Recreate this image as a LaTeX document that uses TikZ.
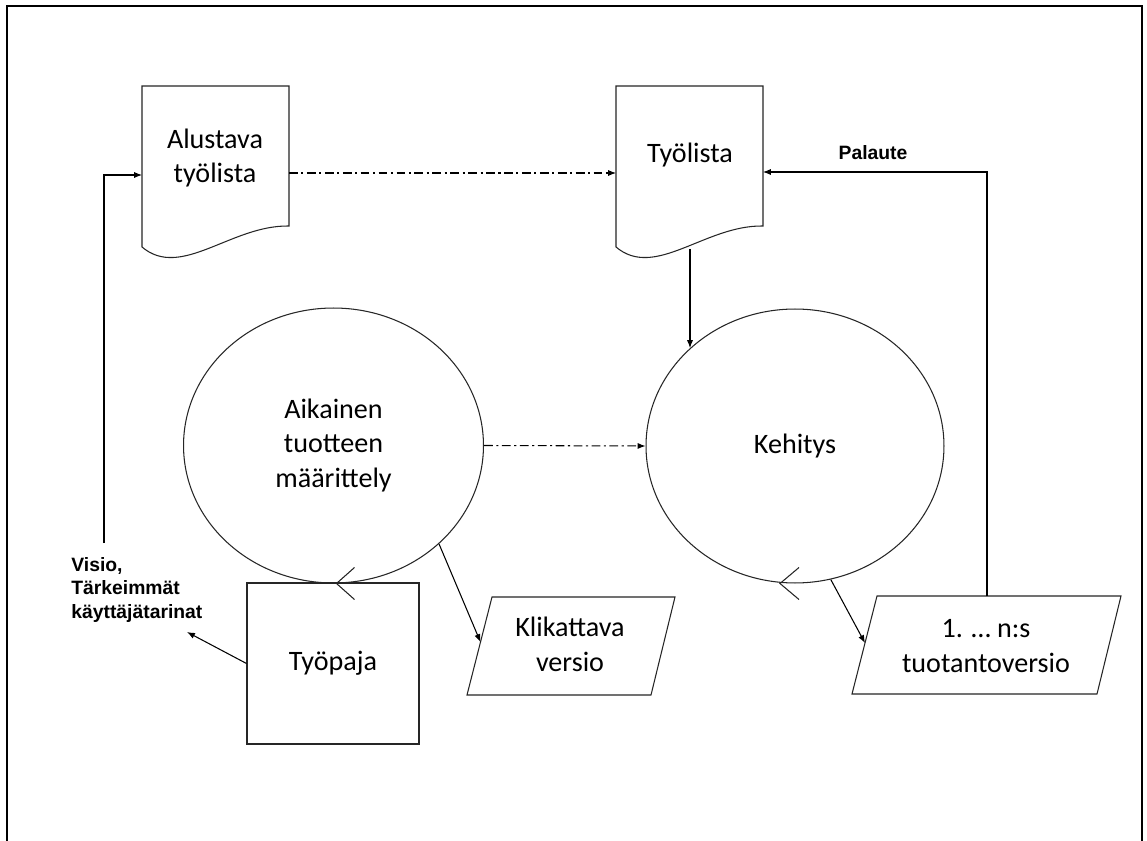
\documentclass[tikz,border=0pt]{standalone}
\usepackage{fontspec}
\setmainfont{Carlito}
\newfontfamily\arialfont{Liberation Sans}
\usetikzlibrary{shapes.geometric,arrows.meta,calc}
\begin{document}
\begin{tikzpicture}[x=0.02cm,y=-0.02cm,
 shapeline/.style={draw=black!85, line width=0.6pt},
 conn/.style={draw=black, line width=0.6pt},
 arr/.style={conn, -{Latex[length=4.5pt,width=3.5pt]}},
 dashdot/.style={arr, dash pattern=on 5pt off 2pt on 1.2pt off 2pt},
 maintext/.style={font=\fontsize{16}{19.8}\selectfont, align=center, inner sep=0pt},
 lbl/.style={font=\arialfont\bfseries\fontsize{11}{13.3}\selectfont, inner sep=0pt},
 circ/.style={ellipse, shapeline, inner sep=0pt, align=center, font=\fontsize{16}{19.8}\selectfont},
 chev/.style={draw=black!85, line width=0.6pt}
]
\useasboundingbox (0,0) rectangle (1147,841);
\fill[white] (0,0) rectangle (1147,841);
% frame (open at the bottom)
\draw[line width=1.2pt] (7,841) -- (7,6) -- (1142,6) -- (1142,841);

% document shapes
\draw[shapeline] (142,86) -- (289,86) -- (289,226) .. controls (231,225) and (181,280) .. (142,247) -- cycle;
\draw[shapeline] (616,86) -- (763,86) -- (763,226) .. controls (705,225) and (655,280) .. (616,247) -- cycle;
\node[maintext] (alustava) at (215,158) {Alustava\\työlista};
\node[maintext] (tyolista) at (690,155) {Työlista};
\coordinate (al-in) at (142,175);
\coordinate (al-out) at (289,173);
\coordinate (tl-in) at (616,173);
\coordinate (tl-fb) at (763,172);
\coordinate (tl-w) at (690,249);

% circles
\node[circ, minimum width=6cm, minimum height=5.5cm] (aikainen) at (333.5,445.5) {Aikainen\\tuotteen\\määrittely};
\node[circ, minimum width=5.96cm, minimum height=5.48cm] (kehitys) at (795,446) {Kehitys};

% workshop box
\node[shapeline, minimum width=3.44cm, minimum height=3.22cm, font=\fontsize{16}{19.8}\selectfont] (tyopaja) at (333,663.5) {Työpaja};

% parallelograms
\coordinate (kl-tl) at (492,597);
\coordinate (kl-tr) at (675,597);
\coordinate (kl-br) at (651,695);
\coordinate (kl-bl) at (467,695);
\draw[shapeline] (kl-tl) -- (kl-tr) -- (kl-br) -- (kl-bl) -- cycle;
\node[maintext] (klik) at (570,644) {Klikattava\\versio};
\coordinate (kl-in) at ($(kl-tl)!0.46!(kl-bl)$);

\coordinate (tv-tl) at (877,596);
\coordinate (tv-tr) at (1121,596);
\coordinate (tv-br) at (1097,694);
\coordinate (tv-bl) at (852,694);
\draw[shapeline] (tv-tl) -- (tv-tr) -- (tv-br) -- (tv-bl) -- cycle;
\node[maintext] (tuot) at (986,646) {1. … n:s\\tuotantoversio};
\coordinate (tv-in) at ($(tv-tl)!0.48!(tv-bl)$);
\coordinate (tv-top) at (987,596);

% labels
\node[lbl, align=left, anchor=west] (visio) at (71,590) {Visio,\\Tärkeimmät\\käyttäjätarinat};
\node[lbl] (palaute) at (873,153) {Palaute};
\coordinate (v-start) at (104,543);
\coordinate (v-end) at (187,632);

% connectors
\draw[dashdot] (al-out) -- (tl-in);
\draw[dashdot] (aikainen.east) -- (kehitys.west);
\draw[arr] (tl-w) -- (tl-w |- kehitys.137);
\draw[arr] (tv-top) |- (tl-fb);
\draw[arr] (v-start) |- (al-in);
\draw[arr] (tyopaja.west) -- (v-end);
\draw[arr] (aikainen.317) -- (kl-in);
\draw[arr] (kehitys.-75) -- (tv-in);

% open chevrons on the circles
\draw[chev] ($(aikainen.south)+(21,-16)$) -- ($(aikainen.south)+(3,0)$) -- ($(aikainen.south)+(21,16)$);
\draw[chev] ($(kehitys.south)+(4,-16)$) -- ($(kehitys.south)+(-15,0)$) -- ($(kehitys.south)+(4,16)$);
\end{tikzpicture}
\end{document}
